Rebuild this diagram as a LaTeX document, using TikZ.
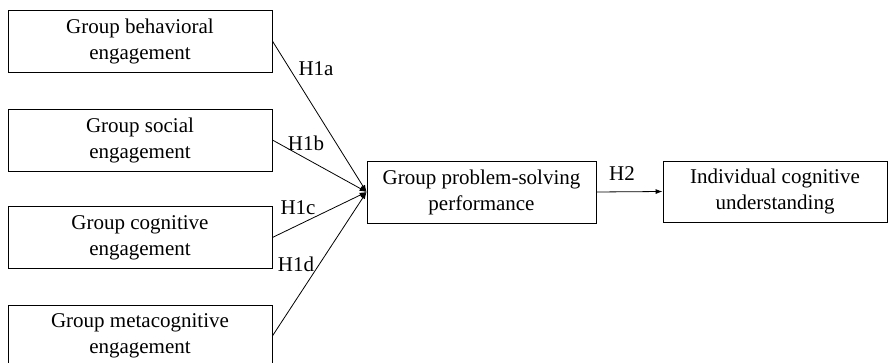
\documentclass[tikz,border=0pt]{standalone}
\usepackage{fontspec}
\setmainfont{Liberation Serif}
\usepackage{tikz}
\usetikzlibrary{arrows.meta, positioning, calc}

\tikzset{
  varbox/.style={draw, line width=0.8pt, align=center, inner sep=0pt,
    minimum height=62pt, font=\fontsize{21}{26}\selectfont},
  hyplbl/.style={font=\fontsize{21}{26}\selectfont, inner sep=0pt},
  hyparrow/.style={line width=0.8pt, -{Latex[length=7pt,width=5pt]}}
}

\begin{document}
\begin{tikzpicture}[x=1pt, y=-1pt]
      \clip (0,0) rectangle (888,363);
      % predictors
      \foreach \name/\ypos/\firstline in {behav/41/behavioral, social/140/social,
          cogn/237.5/cognitive, meta/336/metacognitive}{
        \node[varbox, minimum width=264pt] (\name) at (140,\ypos)
          {Group \firstline\\engagement};
      }
      \node[varbox, minimum width=229pt] (perf) at (481.5,192)
        {Group problem-solving\\performance};
      \node[varbox, minimum width=224pt, minimum height=61pt] (indiv) at (775,191.5)
        {Individual cognitive\\understanding};

      \foreach \name in {behav,social,cogn,meta}{
        \draw[hyparrow] (\name.east) -- (perf.west);
      }
      \draw[hyparrow] (perf.east) -- (indiv.west);

      \node[hyplbl] (h1a) at (316,69) {H1a};
      \node[hyplbl] (h1b) at (306,143) {H1b};
      \node[hyplbl] (h1c) at (298,208) {H1c};
      \node[hyplbl] (h1d) at (296,264) {H1d};
      \node[hyplbl] (h2) at (622,174) {H2};
    \end{tikzpicture}
\end{document}
